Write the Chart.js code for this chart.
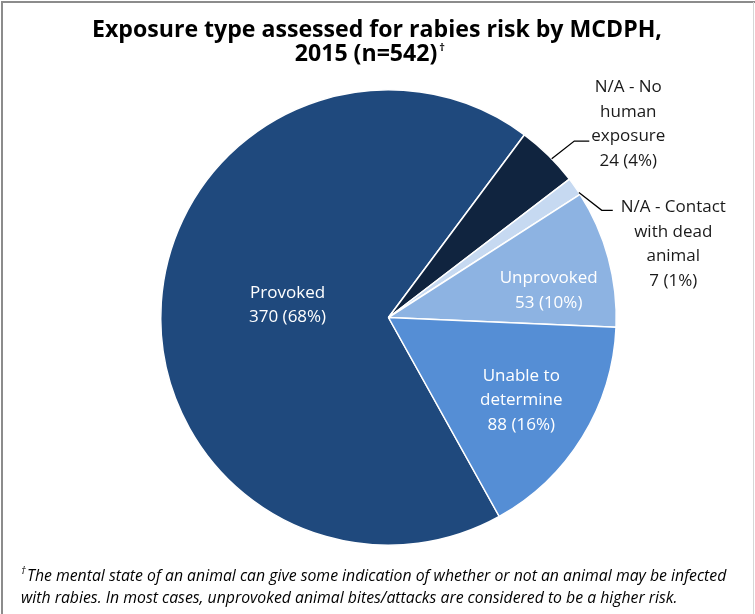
<!DOCTYPE html>
<html><head><meta charset="utf-8">
<script src="https://cdn.jsdelivr.net/npm/chart.js@4.4.1/dist/chart.umd.min.js"></script>
<style>html,body{margin:0;padding:0;background:#fff}#wrap{width:755px;height:614px;position:relative}</style>
</head><body><div id="wrap"><canvas id="c" width="755" height="614"></canvas></div>
<script>
// ---- data ----
const categories = ['Provoked', 'N/A - No human exposure', 'N/A - Contact with dead animal', 'Unprovoked', 'Unable to determine'];
const counts = [370, 24, 7, 53, 88];
const labelLines = [['Provoked'], ['N/A - No', 'human', 'exposure'], ['N/A - Contact', 'with dead', 'animal'], ['Unprovoked'], ['Unable to', 'determine']];
const colors = ['#1F497D', '#10243F', '#C6D9F1', '#8DB3E2', '#558ED5'];
const titleLines = ['Exposure type assessed for rabies risk by MCDPH,', '2015 (n=542)'];
const footnoteLines = ['The mental state of an animal can give some indication of whether or not an animal may be infected',
  'with rabies. In most cases, unprovoked animal bites/attacks are considered to be a higher risk.'];

// ---- label placement (layout options) ----
const labelPlacement = [
  { inside: true, dAngle: 3.8, r: 0.447, color: '#ffffff' },
  { inside: false, startD: 1.15, elbowD: 1.85, elbowR: 1.125, hLen: 15, textDx: 39, firstDy: -49, color: '#1a1a1a' },
  { inside: false, startD: 1.8, elbowD: 8.4, elbowR: 1.048, hLen: 11, textDx: 60.5, firstDy: 2, color: '#1a1a1a' },
  { inside: true, dAngle: 5.3, r: 0.714, color: '#ffffff' },
  { inside: true, dAngle: 0, r: 0.685, color: '#ffffff' }
];
const FONT = '"Open Sans", "Noto Sans", sans-serif';
const LH = 24.5;

const total = counts.reduce((a, b) => a + b, 0);

const decorPlugin = {
  id: 'decor',
  beforeDraw(chart) {
    const ctx = chart.ctx;
    ctx.save();
    ctx.fillStyle = '#fff';
    ctx.fillRect(0, 0, chart.width, chart.height);
    ctx.restore();
  },
  afterDraw(chart) {
    const ctx = chart.ctx;
    ctx.save();
    // frame
    ctx.strokeStyle = '#8c8c8c';
    ctx.lineWidth = 2;
    ctx.beginPath();
    ctx.moveTo(2, chart.height); ctx.lineTo(2, 2); ctx.lineTo(chart.width, 2);
    ctx.stroke();
    ctx.strokeStyle = '#d6d6d6';
    ctx.lineWidth = 1;
    ctx.beginPath();
    ctx.moveTo(753.5, 2); ctx.lineTo(753.5, chart.height);
    ctx.stroke();

    // title
    ctx.fillStyle = '#000';
    ctx.textBaseline = 'alphabetic';
    ctx.textAlign = 'left';
    ctx.font = 'bold 20px ' + FONT;
    let w = ctx.measureText(titleLines[0]).width;
    const tSize = 20 * 570 / w;
    ctx.font = 'bold ' + tSize + 'px ' + FONT;
    ctx.fillText(titleLines[0], 92, 37);
    const t2w = ctx.measureText(titleLines[1]).width;
    ctx.font = 'bold 11px ' + FONT;
    const dw = ctx.measureText('\u2020').width;
    const t2x = 445 - (t2w + 2 + dw);
    ctx.fillText('\u2020', t2x + t2w + 2, 51);
    ctx.font = 'bold ' + tSize + 'px ' + FONT;
    ctx.fillText(titleLines[1], t2x, 61);

    // footnote
    ctx.font = 'italic 15px ' + FONT;
    w = ctx.measureText(footnoteLines[0]).width;
    const fSize = 15 * 700 / w;
    ctx.font = 'italic 10px ' + FONT;
    ctx.fillText('\u2020', 21, 574);
    ctx.font = 'italic ' + fSize + 'px ' + FONT;
    ctx.fillText(footnoteLines[0], 27, 581);
    ctx.fillText(footnoteLines[1], 21, 603);

    // slice labels
    const meta = chart.getDatasetMeta(0);
    ctx.font = '17px ' + FONT;
    ctx.textAlign = 'center';
    meta.data.forEach((arc, i) => {
      const p = labelPlacement[i];
      const cx = arc.x, cy = arc.y, R = arc.outerRadius;
      const mid = (arc.startAngle + arc.endAngle) / 2;
      const pct = Math.round(counts[i] / total * 100);
      const lines = labelLines[i].concat([counts[i] + ' (' + pct + '%)']);
      ctx.fillStyle = p.color;
      if (p.inside) {
        const a = mid + p.dAngle * Math.PI / 180;
        const ax = cx + p.r * R * Math.cos(a);
        const ay = cy + p.r * R * Math.sin(a);
        lines.forEach((t, k) => {
          ctx.fillText(t, ax, ay + (k - (lines.length - 1) / 2) * LH + 6);
        });
      } else {
        const a0 = mid + p.startD * Math.PI / 180;
        const a1 = mid + p.elbowD * Math.PI / 180;
        const sx = cx + R * Math.cos(a0), sy = cy + R * Math.sin(a0);
        const ex = cx + p.elbowR * R * Math.cos(a1), ey = cy + p.elbowR * R * Math.sin(a1);
        const hx = ex + p.hLen;
        ctx.strokeStyle = '#000';
        ctx.lineWidth = 1.3;
        ctx.beginPath();
        ctx.moveTo(sx, sy); ctx.lineTo(ex, ey); ctx.lineTo(hx, ey);
        ctx.stroke();
        lines.forEach((t, k) => {
          ctx.fillText(t, hx + p.textDx, ey + p.firstDy + k * LH);
        });
      }
    });
    ctx.restore();
  }
};

function draw() {
  new Chart(document.getElementById('c'), {
    type: 'pie',
    data: {
      labels: categories,
      datasets: [{
        data: counts,
        backgroundColor: colors,
        borderColor: '#ffffff',
        borderWidth: 1.5
      }]
    },
    options: {
      responsive: false,
      animation: false,
      rotation: 150.9,
      layout: { padding: { left: 160, right: 138, top: 89, bottom: 68 } },
      plugins: { legend: { display: false }, title: { display: false }, tooltip: { enabled: false } }
    },
    plugins: [decorPlugin]
  });
}
const fontLoads = ['bold 20px "Open Sans"', '17px "Open Sans"', 'italic 15px "Open Sans"'].map(f => document.fonts.load(f).catch(() => {}));
Promise.race([Promise.all(fontLoads), new Promise(r => setTimeout(r, 1500))]).then(draw);
</script>
</body></html>
